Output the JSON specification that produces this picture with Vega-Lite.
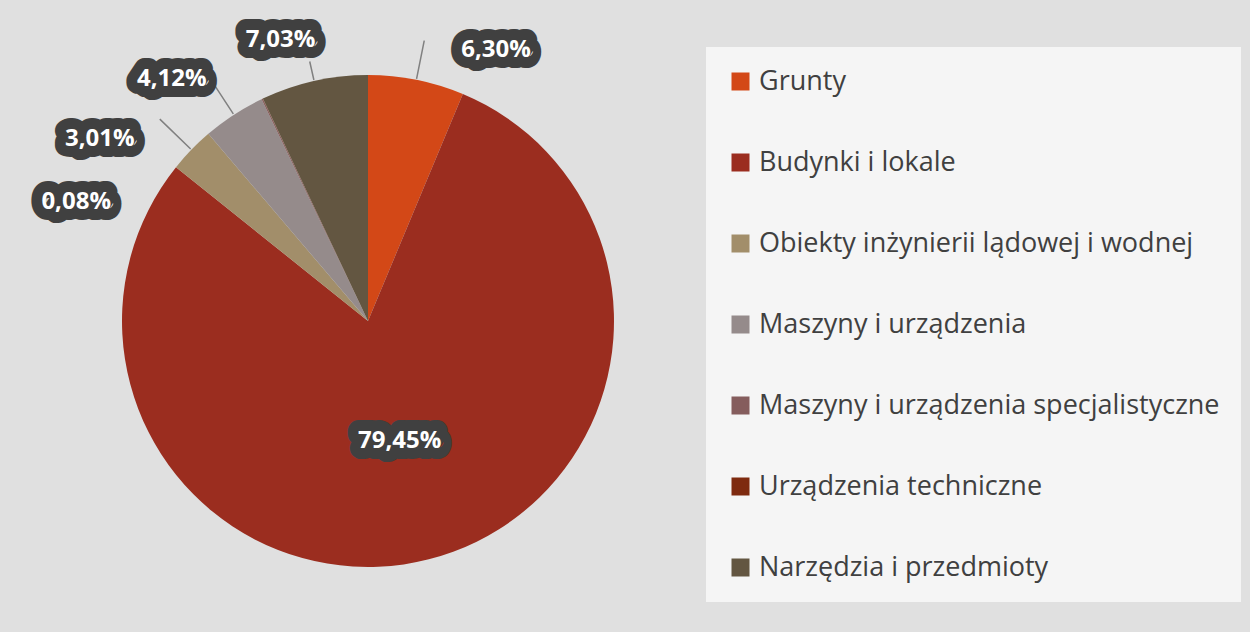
{
  "$schema": "https://vega.github.io/schema/vega-lite/v6.json",
  "width": 700,
  "height": 600,
  "autosize": {"type": "none"},
  "padding": {"left": 18, "top": 21, "right": 532, "bottom": 11},
  "background": "#e0e0e0",
  "data": {
    "values": [
      {"kategoria": "Grunty", "udzial": 6.30, "kolejnosc": 1, "etykieta": "6,30%"},
      {"kategoria": "Budynki i lokale", "udzial": 79.45, "kolejnosc": 2, "etykieta": "79,45%"},
      {"kategoria": "Obiekty inżynierii lądowej i wodnej", "udzial": 3.01, "kolejnosc": 3, "etykieta": "3,01%"},
      {"kategoria": "Maszyny i urządzenia", "udzial": 4.12, "kolejnosc": 4, "etykieta": "4,12%"},
      {"kategoria": "Maszyny i urządzenia specjalistyczne", "udzial": 0.08, "kolejnosc": 5, "etykieta": "0,08%"},
      {"kategoria": "Urządzenia techniczne", "udzial": 0.01, "kolejnosc": 6, "etykieta": ""},
      {"kategoria": "Narzędzia i przedmioty", "udzial": 7.03, "kolejnosc": 7, "etykieta": "7,03%"}
    ]
  },
  "transform": [
    {"stack": "udzial", "groupby": [], "sort": [{"field": "kolejnosc", "order": "ascending"}], "as": ["s0", "s1"]},
    {"calculate": "(datum.s0 + datum.s1) / 2", "as": "srodek"}
  ],
  "layer": [
    {
      "mark": {"type": "arc", "outerRadius": 246},
      "encoding": {
        "theta": {"field": "s0", "type": "quantitative", "stack": null, "scale": {"domain": [0, 100]}},
        "theta2": {"field": "s1"},
        "color": {
          "field": "kategoria",
          "type": "nominal",
          "sort": null,
          "scale": {
            "domain": ["Grunty", "Budynki i lokale", "Obiekty inżynierii lądowej i wodnej", "Maszyny i urządzenia", "Maszyny i urządzenia specjalistyczne", "Urządzenia techniczne", "Narzędzia i przedmioty"],
            "range": ["#D34817", "#9B2D1F", "#A28E6A", "#958B8B", "#855D5D", "#7E2A0F", "#635641"]
          },
          "legend": {
            "title": null,
            "orient": "none",
            "legendX": 688,
            "legendY": 26,
            "direction": "vertical",
            "symbolType": "square",
            "symbolSize": 324,
            "symbolStrokeWidth": 0,
            "labelFont": "Open Sans",
            "labelFontSize": 27,
            "labelColor": "#404040",
            "labelLimit": 0,
            "labelOffset": 5,
            "rowPadding": 53,
            "padding": 21,
            "fillColor": "#f5f5f5",
            "strokeColor": null
          }
        }
      }
    },
    {
      "transform": [{"filter": "datum.kategoria == 'Grunty'"}],
      "encoding": {"theta": {"field": "srodek", "type": "quantitative", "stack": null, "scale": {"domain": [0, 100]}}, "text": {"field": "etykieta"}},
      "layer": [
        {"mark": {"type": "arc", "innerRadius": 247, "outerRadius": 286, "fill": null, "stroke": "#808080", "strokeWidth": 1.5}, "encoding": {"theta2": {"field": "srodek"}}},
        {"mark": {"type": "text", "radius": 290, "dx": 71, "dy": 13, "font": "Open Sans", "fontWeight": "bold", "fontSize": 24, "fill": "#404040", "stroke": "#404040", "strokeWidth": 22, "strokeJoin": "round"}},
        {"mark": {"type": "text", "radius": 290, "dx": 71, "dy": 13, "font": "Open Sans", "fontWeight": "bold", "fontSize": 24, "fill": "#ffffff"}}
      ]
    },
    {
      "transform": [{"filter": "datum.kategoria == 'Budynki i lokale'"}],
      "encoding": {"theta": {"field": "srodek", "type": "quantitative", "stack": null, "scale": {"domain": [0, 100]}}, "text": {"field": "etykieta"}},
      "layer": [
        {"mark": {"type": "text", "radius": 124, "dx": 1, "dy": 0, "font": "Open Sans", "fontWeight": "bold", "fontSize": 24, "fill": "#404040", "stroke": "#404040", "strokeWidth": 22, "strokeJoin": "round"}},
        {"mark": {"type": "text", "radius": 124, "dx": 1, "dy": 0, "font": "Open Sans", "fontWeight": "bold", "fontSize": 24, "fill": "#ffffff"}}
      ]
    },
    {
      "transform": [{"filter": "datum.kategoria == 'Obiekty inżynierii lądowej i wodnej'"}],
      "encoding": {"theta": {"field": "srodek", "type": "quantitative", "stack": null, "scale": {"domain": [0, 100]}}, "text": {"field": "etykieta"}},
      "layer": [
        {"mark": {"type": "arc", "innerRadius": 247, "outerRadius": 290, "fill": null, "stroke": "#808080", "strokeWidth": 1.5}, "encoding": {"theta2": {"field": "srodek"}}},
        {"mark": {"type": "text", "radius": 290, "dx": -60, "dy": 20, "font": "Open Sans", "fontWeight": "bold", "fontSize": 24, "fill": "#404040", "stroke": "#404040", "strokeWidth": 22, "strokeJoin": "round"}},
        {"mark": {"type": "text", "radius": 290, "dx": -60, "dy": 20, "font": "Open Sans", "fontWeight": "bold", "fontSize": 24, "fill": "#ffffff"}}
      ]
    },
    {
      "transform": [{"filter": "datum.kategoria == 'Maszyny i urządzenia'"}],
      "encoding": {"theta": {"field": "srodek", "type": "quantitative", "stack": null, "scale": {"domain": [0, 100]}}, "text": {"field": "etykieta"}},
      "layer": [
        {"mark": {"type": "arc", "innerRadius": 247, "outerRadius": 280, "fill": null, "stroke": "#808080", "strokeWidth": 1.5}, "encoding": {"theta2": {"field": "srodek"}}},
        {"mark": {"type": "text", "radius": 290, "dx": -38, "dy": 1, "font": "Open Sans", "fontWeight": "bold", "fontSize": 24, "fill": "#404040", "stroke": "#404040", "strokeWidth": 22, "strokeJoin": "round"}},
        {"mark": {"type": "text", "radius": 290, "dx": -38, "dy": 1, "font": "Open Sans", "fontWeight": "bold", "fontSize": 24, "fill": "#ffffff"}}
      ]
    },
    {
      "transform": [{"filter": "datum.kategoria == 'Maszyny i urządzenia specjalistyczne'"}],
      "encoding": {"theta": {"field": "srodek", "type": "quantitative", "stack": null, "scale": {"domain": [0, 100]}}, "text": {"field": "etykieta"}},
      "layer": [
        {"mark": {"type": "text", "radius": 290, "dx": -167, "dy": 143, "font": "Open Sans", "fontWeight": "bold", "fontSize": 24, "fill": "#404040", "stroke": "#404040", "strokeWidth": 22, "strokeJoin": "round"}},
        {"mark": {"type": "text", "radius": 290, "dx": -167, "dy": 143, "font": "Open Sans", "fontWeight": "bold", "fontSize": 24, "fill": "#ffffff"}}
      ]
    },
    {
      "transform": [{"filter": "datum.kategoria == 'Narzędzia i przedmioty'"}],
      "encoding": {"theta": {"field": "srodek", "type": "quantitative", "stack": null, "scale": {"domain": [0, 100]}}, "text": {"field": "etykieta"}},
      "layer": [
        {"mark": {"type": "arc", "innerRadius": 247, "outerRadius": 266, "fill": null, "stroke": "#808080", "strokeWidth": 1.5}, "encoding": {"theta2": {"field": "srodek"}}},
        {"mark": {"type": "text", "radius": 290, "dx": -24, "dy": 2, "font": "Open Sans", "fontWeight": "bold", "fontSize": 24, "fill": "#404040", "stroke": "#404040", "strokeWidth": 22, "strokeJoin": "round"}},
        {"mark": {"type": "text", "radius": 290, "dx": -24, "dy": 2, "font": "Open Sans", "fontWeight": "bold", "fontSize": 24, "fill": "#ffffff"}}
      ]
    }
  ],
  "config": {"view": {"stroke": null}}
}
